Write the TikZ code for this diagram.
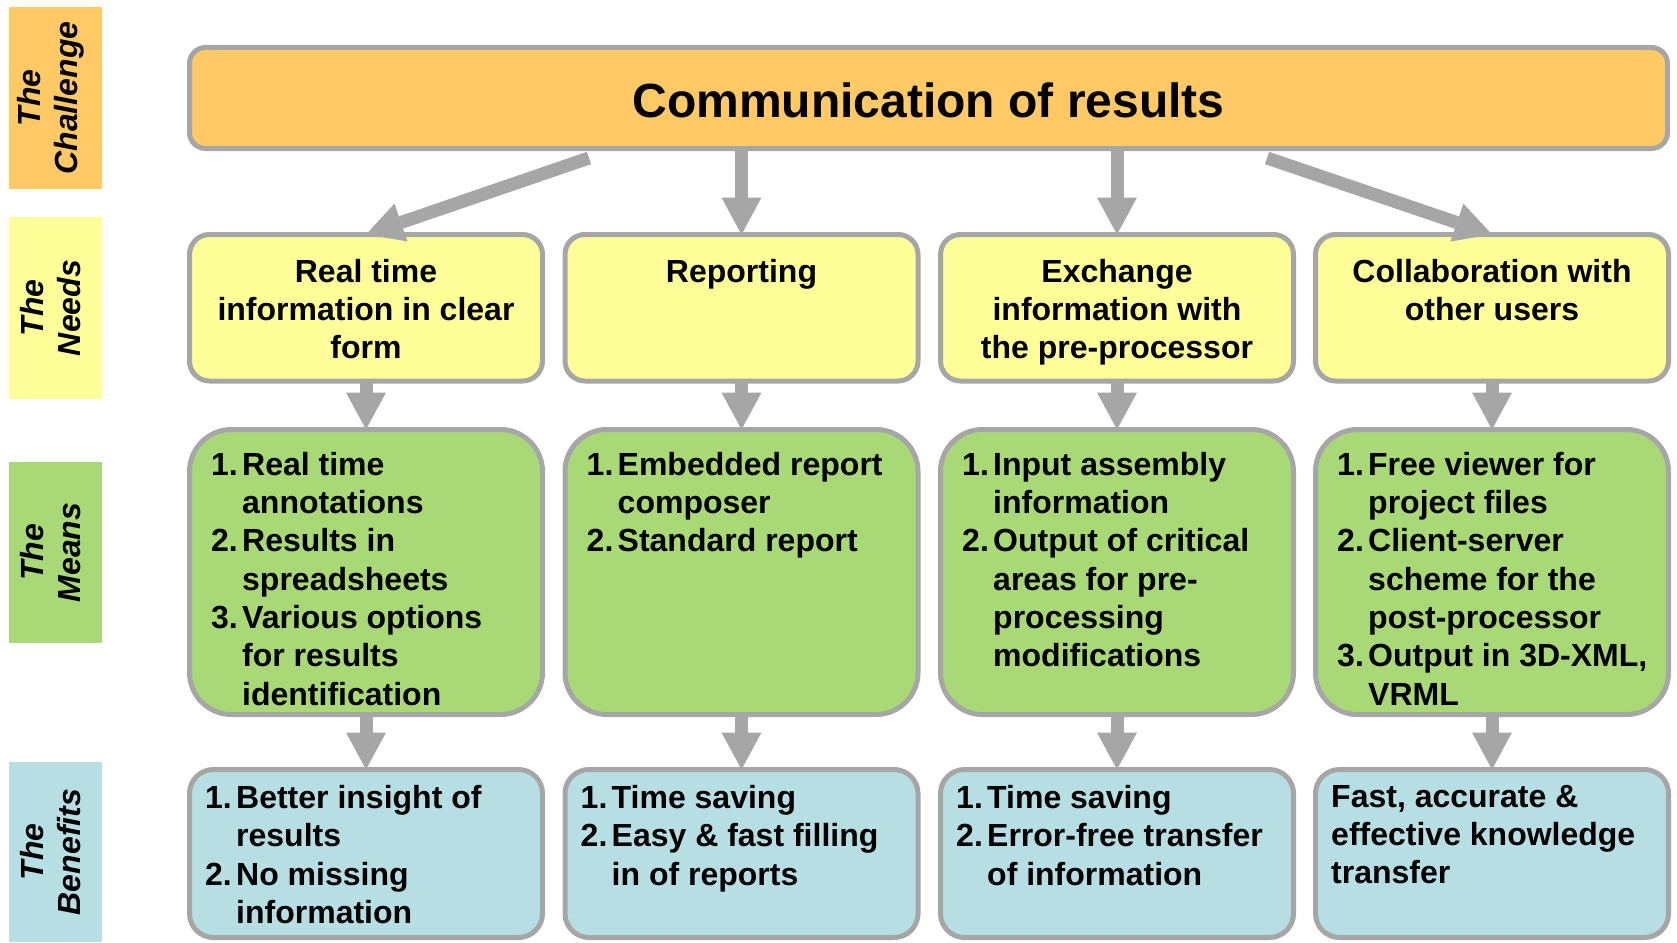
\documentclass[tikz,border=0pt]{standalone}
\usepackage{fontspec}
\setmainfont{Liberation Sans}
\usetikzlibrary{arrows.meta}

\definecolor{edge}{HTML}{A6A6A6}
\definecolor{chall}{HTML}{FFC966}
\definecolor{need}{HTML}{FFFF99}
\definecolor{mean}{HTML}{A9D977}
\definecolor{bene}{HTML}{B7DFE3}

% numbered lines with a hanging indent
\newlength{\numw}\setlength{\numw}{31pt}
\newcommand{\numitem}[2]{\makebox[\numw][l]{#1}#2}
\newcommand{\numcont}[1]{\hspace*{\numw}#1}

\begin{document}
\begin{tikzpicture}[x=1pt,y=-1pt,
  frame/.style={draw=edge, line width=5pt, inner sep=0pt, outer sep=0pt, minimum width=353pt},
  topbox/.style={frame, fill=chall, rounded corners=16pt, minimum width=1478pt, minimum height=101pt},
  titletext/.style={inner sep=0pt, font=\fontsize{48}{58}\selectfont\bfseries},
  needbox/.style={frame, fill=need, rounded corners=20pt, minimum height=146.5pt},
  meanbox/.style={frame, fill=mean, rounded corners=42pt, minimum height=285pt},
  benebox/.style={frame, fill=bene, rounded corners=24pt, minimum height=168pt},
  tag/.style={inner sep=0pt, outer sep=0pt, minimum width=93pt},
  tagtext/.style={rotate=90, align=center, inner sep=0pt,
    font=\fontsize{32}{37}\selectfont\bfseries\itshape},
  needtext/.style={anchor=north, align=center, inner sep=0pt,
    font=\fontsize{32}{38.3}\selectfont\bfseries},
  listtext/.style={anchor=north west, align=left, inner sep=0pt,
    font=\fontsize{32}{38.3}\selectfont\bfseries},
  arr/.style={draw=edge, line width=13pt,
    -{Triangle[width=40pt,length=37pt,line width=0pt]}}
]
\useasboundingbox (0,0) rectangle (1677,942);

% row tags on the left
\node[tag, fill=chall, minimum height=182pt] (c0) at (55.5,98) {};
\node[tag, fill=need,  minimum height=182pt] (c1) at (55.5,308) {};
\node[tag, fill=mean,  minimum height=181pt] (c2) at (55.5,552.5) {};
\node[tag, fill=bene,  minimum height=180pt] (c3) at (55.5,852) {};
\node[tagtext] (c0t) at (51,98) {The\\Challenge};
\node[tagtext] (c1t) at (51,308) {The\\Needs};
\node[tagtext] (c2t) at (51,552.5) {The\\Means};
\node[tagtext] (c3t) at (51,852) {The\\Benefits};

% challenge
\node[topbox] (top) at (928.5,98) {};
\node[titletext] (title) at (928.5,100) {Communication of results};

% needs
\node[needbox] (n1) at (366,307.75) {};
\node[needbox] (n2) at (741.5,307.75) {};
\node[needbox] (n3) at (1117,307.75) {};
\node[needbox] (n4) at (1492,307.75) {};
\node[needtext] (n1t) at (366,259) {Real time\\information in clear\\form};
\node[needtext] (n2t) at (741.5,259) {Reporting};
\node[needtext] (n3t) at (1117,259) {Exchange\\information with\\the pre-processor};
\node[needtext] (n4t) at (1492,259) {Collaboration with\\other users};

% means
\node[meanbox] (m1) at (366,572) {};
\node[meanbox] (m2) at (741.5,572) {};
\node[meanbox] (m3) at (1117,572) {};
\node[meanbox] (m4) at (1492,572) {};
\node[listtext] (m1t) at (211,452) {\numitem{1.}{Real time}\\ \numcont{annotations}\\
  \numitem{2.}{Results in}\\ \numcont{spreadsheets}\\ \numitem{3.}{Various options}\\
  \numcont{for results}\\ \numcont{identification}};
\node[listtext] (m2t) at (586.5,452) {\numitem{1.}{Embedded report}\\ \numcont{composer}\\
  \numitem{2.}{Standard report}};
\node[listtext] (m3t) at (962,452) {\numitem{1.}{Input assembly}\\ \numcont{information}\\
  \numitem{2.}{Output of critical}\\ \numcont{areas for pre-}\\ \numcont{processing}\\
  \numcont{modifications}};
\node[listtext] (m4t) at (1337,452) {\numitem{1.}{Free viewer for}\\ \numcont{project files}\\
  \numitem{2.}{Client-server}\\ \numcont{scheme for the}\\ \numcont{post-processor}\\
  \numitem{3.}{Output in 3D-XML,}\\ \numcont{VRML}};

% benefits
\node[benebox] (b1) at (366,853.5) {};
\node[benebox] (b2) at (741.5,853.5) {};
\node[benebox] (b3) at (1117,853.5) {};
\node[benebox] (b4) at (1492,853.5) {};
\node[listtext] (b1t) at (205,785) {\numitem{1.}{Better insight of}\\ \numcont{results}\\
  \numitem{2.}{No missing}\\ \numcont{information}};
\node[listtext] (b2t) at (580.5,785) {\numitem{1.}{Time saving}\\
  \numitem{2.}{Easy \& fast filling}\\ \numcont{in of reports}};
\node[listtext] (b3t) at (956,785) {\numitem{1.}{Time saving}\\
  \numitem{2.}{Error-free transfer}\\ \numcont{of information}};
\node[listtext] (b4t) at (1331,785) {Fast, accurate \&\\effective knowledge\\transfer};

% connectors
\coordinate (tl) at (589,158);
\coordinate (tr) at (1267,158);
\draw[arr] (tl) -- (n1.north);
\draw[arr] (n2.north |- top.south) -- (n2.north);
\draw[arr] (n3.north |- top.south) -- (n3.north);
\draw[arr] (tr) -- (n4.north);
\foreach \i in {1,2,3,4}{
  \draw[arr] (n\i.south) -- (m\i.north);
  \draw[arr] (m\i.south) -- (b\i.north);
}
\end{tikzpicture}
\end{document}
